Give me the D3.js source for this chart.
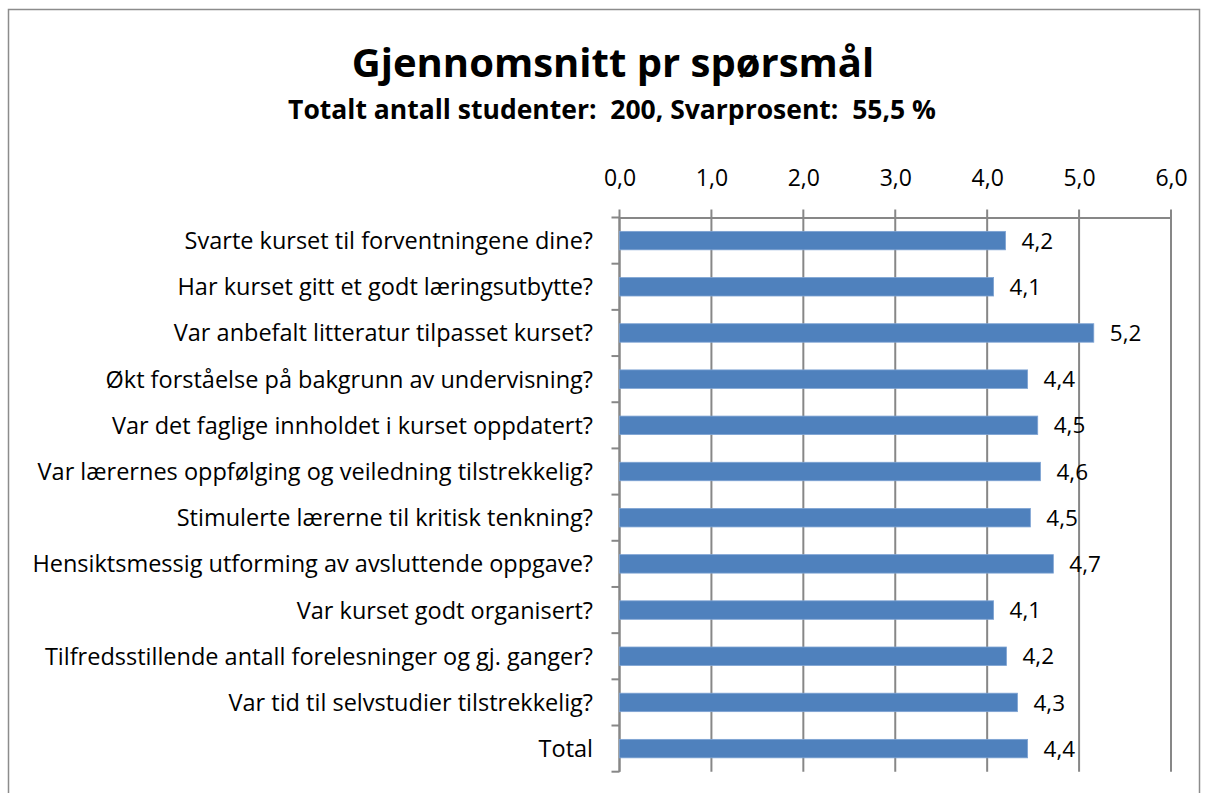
<!DOCTYPE html>
<html>
<head>
<meta charset="utf-8">
<script src="https://cdn.jsdelivr.net/npm/d3@7/dist/d3.min.js"></script>
<style>
  html, body { margin: 0; padding: 0; background: #fff; }
  svg { display: block; font-family: "Open Sans", Lato, sans-serif; }
  text { white-space: pre; }
</style>
</head>
<body>
<svg id="chart" width="1206" height="793"></svg>
<script>
// Survey questions (top to bottom) and their average scores
const questions = [
  "Svarte kurset til forventningene dine?",
  "Har kurset gitt et godt læringsutbytte?",
  "Var anbefalt litteratur tilpasset kurset?",
  "Økt forståelse på bakgrunn av undervisning?",
  "Var det faglige innholdet i kurset oppdatert?",
  "Var lærernes oppfølging og veiledning tilstrekkelig?",
  "Stimulerte lærerne til kritisk tenkning?",
  "Hensiktsmessig utforming av avsluttende oppgave?",
  "Var kurset godt organisert?",
  "Tilfredsstillende antall forelesninger og gj. ganger?",
  "Var tid til selvstudier tilstrekkelig?",
  "Total"
];
const averages = [4.20, 4.07, 5.16, 4.44, 4.55, 4.58, 4.47, 4.72, 4.07, 4.21, 4.33, 4.44];
const axisTicks = [0, 1, 2, 3, 4, 5, 6];

const title = "Gjennomsnitt pr spørsmål";
const subtitle = "Totalt antall studenter:  200, Svarprosent:  55,5 %";

const svg = d3.select("#chart");

// Outer chart frame
svg.append("rect")
  .attr("x", 8.5).attr("y", 9.5)
  .attr("width", 1191).attr("height", 800)
  .attr("fill", "#fff")
  .attr("stroke", "#8c8c8c").attr("stroke-width", 1.5);

const plot = { left: 619.5, right: 1171, top: 217.5, bottom: 771.7 };

const x = d3.scaleLinear().domain([0, 6]).range([plot.left, plot.right]);
const y = d3.scaleBand().domain(questions).range([plot.top, plot.bottom])
  .paddingInner(0.6).paddingOuter(0.3);
const yEdges = d3.scaleLinear().domain([0, questions.length]).range([plot.top, plot.bottom]);

const comma = v => d3.format(".1f")(v).replace(".", ",");
const gridColor = "#878787";

// Titles
svg.append("text")
  .attr("x", 613).attr("y", 77)
  .attr("text-anchor", "middle")
  .attr("font-weight", 700).attr("font-size", 40)
  .text(title);
svg.append("text")
  .attr("x", 612).attr("y", 119)
  .attr("text-anchor", "middle")
  .attr("font-weight", 700).attr("font-size", 26.5)
  .text(subtitle);

// Vertical gridlines with ticks above the top axis
svg.append("g").selectAll("line")
  .data(axisTicks)
  .join("line")
  .attr("x1", d => x(d)).attr("x2", d => x(d))
  .attr("y1", plot.top - 8).attr("y2", plot.bottom)
  .attr("stroke", gridColor).attr("stroke-width", 2);

// Top value axis
const xAxis = d3.axisTop(x).tickValues(axisTicks).tickFormat(comma).tickSize(0).tickPadding(0);
const gx = svg.append("g").attr("transform", `translate(0,${plot.top})`).call(xAxis);
gx.select(".domain").attr("stroke", gridColor).attr("stroke-width", 2);
gx.selectAll("text")
  .attr("y", -32)
  .attr("dy", 0)
  .attr("font-size", 23)
  .attr("font-family", "'Open Sans', Lato, sans-serif")
  .attr("fill", "#000");

// Left category axis line and band boundary ticks
svg.append("line")
  .attr("x1", plot.left).attr("x2", plot.left)
  .attr("y1", plot.top).attr("y2", plot.bottom)
  .attr("stroke", gridColor).attr("stroke-width", 2);
svg.append("g").selectAll("line")
  .data(d3.range(questions.length + 1))
  .join("line")
  .attr("x1", plot.left - 8).attr("x2", plot.left)
  .attr("y1", d => yEdges(d)).attr("y2", d => yEdges(d))
  .attr("stroke", gridColor).attr("stroke-width", 2);

// Category labels
svg.append("g").selectAll("text")
  .data(questions)
  .join("text")
  .attr("x", 593)
  .attr("y", d => y(d) + y.bandwidth() / 2)
  .attr("dy", "0.36em")
  .attr("text-anchor", "end")
  .attr("font-size", 23.5)
  .text(d => d);

// Bars
const rows = questions.map((q, i) => ({ q, v: averages[i] }));
svg.append("g").selectAll("rect")
  .data(rows)
  .join("rect")
  .attr("x", x(0))
  .attr("y", d => y(d.q))
  .attr("width", d => x(d.v) - x(0))
  .attr("height", y.bandwidth())
  .attr("fill", "#4f81bd")
  .attr("stroke", "#7ea3d3").attr("stroke-width", 0.8);

// Value labels
svg.append("g").selectAll("text")
  .data(rows)
  .join("text")
  .attr("x", d => x(d.v) + 16)
  .attr("y", d => y(d.q) + y.bandwidth() / 2)
  .attr("dy", "0.36em")
  .attr("font-size", 22.5)
  .text(d => comma(d.v));
</script>
</body>
</html>
